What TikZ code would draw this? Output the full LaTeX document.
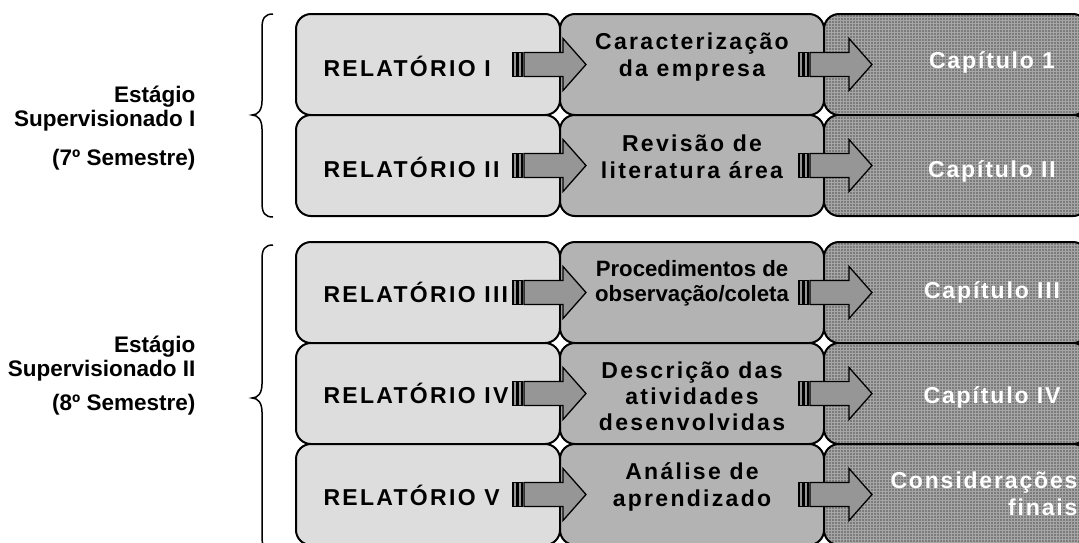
\documentclass[tikz,border=0pt]{standalone}
\usepackage{fontspec}
\setmainfont{Liberation Sans}
\newfontfamily\widefont[LetterSpace=10]{Liberation Sans}
\newfontfamily\capfont[LetterSpace=8]{Liberation Sans}
\usetikzlibrary{patterns}

\definecolor{relfill}{HTML}{DDDDDD}
\definecolor{temfill}{HTML}{B3B3B3}
\definecolor{capfill}{HTML}{7B7B7B}
\definecolor{capgrid}{HTML}{A6A6A6}
\definecolor{arrfill}{HTML}{969696}

\tikzset{
  box/.style={draw=black, line width=2pt, rounded corners=15pt,
    minimum width=264pt, minimum height=101pt, inner sep=0pt},
  relbox/.style={box, fill=relfill},
  tembox/.style={box, fill=temfill},
  capbox/.style={box, preaction={fill=capfill}, pattern=grid, pattern color=capgrid},
  reltext/.style={anchor=base west, font=\widefont\bfseries\fontsize{23}{27}\selectfont},
  temtext/.style={align=center, font=\widefont\bfseries\fontsize{23}{27}\selectfont},
  captext/.style={text=white, font=\capfont\bfseries\fontsize{23}{27}\selectfont},
  stagetext/.style={anchor=east, align=right, font=\bfseries\fontsize{22.5}{24}\selectfont},
  arrowpart/.style={draw=black, line width=1.3pt, fill=arrfill},
  brace/.style={draw=black, line width=1.5pt},
  striparrow/.pic={
    \draw[arrowpart] (0,-12) rectangle (3.5,12);
    \draw[arrowpart] (5,-12) rectangle (9,12);
    \draw[arrowpart] (11,-12) -- (50,-12) -- (50,-26) -- (73,0) -- (50,26)
      -- (50,12) -- (11,12) -- cycle;
  }
}

\begin{document}
\begin{tikzpicture}[x=1pt, y=-1pt]
\useasboundingbox (0,0) rectangle (1079,542);

% caixas
\node[relbox] (r1) at (428,64.5) {};
\node[relbox] (r2) at (428,165.5) {};
\node[relbox] (r3) at (428,292.5) {};
\node[relbox] (r4) at (428,393.5) {};
\node[relbox] (r5) at (428,494.5) {};
\node[tembox] (t1) at (692,64.5) {};
\node[tembox] (t2) at (692,165.5) {};
\node[tembox] (t3) at (692,292.5) {};
\node[tembox] (t4) at (692,393.5) {};
\node[tembox] (t5) at (692,494.5) {};
\node[capbox] (c1) at (956,64.5) {};
\node[capbox] (c2) at (956,165.5) {};
\node[capbox] (c3) at (956,292.5) {};
\node[capbox] (c4) at (956,393.5) {};
\node[capbox] (c5) at (956,494.5) {};

% setas
\foreach \i in {1,...,5}{
  \path (r\i.east) ++(-48,0) pic {striparrow};
  \path (t\i.east) ++(-26,0) pic {striparrow};
}

% textos
\node[reltext] (rl1) at (320,76) {RELATÓRIO I};
\node[reltext] (rl2) at (320,177) {RELATÓRIO II};
\node[reltext] (rl3) at (320,302) {RELATÓRIO III};
\node[reltext] (rl4) at (320,403) {RELATÓRIO IV};
\node[reltext] (rl5) at (320,505) {RELATÓRIO V};

\node[temtext] (tl1) at (692,57) {Caracterização\\da empresa};
\node[temtext] (tl2) at (692,156.5) {Revisão de\\literatura área};
\node[temtext, font=\bfseries\fontsize{22.2}{25}\selectfont] (tl3) at (692,283) {Procedimentos de\\observação/coleta};
\node[temtext, font=\widefont\bfseries\fontsize{23}{26}\selectfont] (tl4) at (692,396) {Descrição das\\atividades\\desenvolvidas};
\node[temtext] (tl5) at (692,487) {Análise de\\aprendizado};

\node[captext, anchor=base] (cl1) at (992,68) {Capítulo 1};
\node[captext, anchor=base] (cl2) at (992,177) {Capítulo II};
\node[captext, anchor=base] (cl3) at (992,298) {Capítulo III};
\node[captext, anchor=base] (cl4) at (992,403) {Capítulo IV};
\node[captext, anchor=east, align=right] (cl5) at (1081,494) {Considerações\\finais};

\node[stagetext] (s1) at (199,128) {Estágio\\Supervisionado I\\[15pt](7º Semestre)};
\node[stagetext] (s2) at (199,376) {Estágio\\Supervisionado II\\[10pt](8º Semestre)};

% chaves
\draw[brace] (273,14) .. controls (265,14) and (262,18) .. (262,28) -- (262,101)
  .. controls (262,110) and (258,115) .. (252,115)
  .. controls (258,115) and (262,120) .. (262,129) -- (262,203)
  .. controls (262,213) and (265,217) .. (273,217);
\draw[brace] (273,245) .. controls (265,245) and (262,249) .. (262,259) -- (262,384)
  .. controls (262,393) and (258,398) .. (252,398)
  .. controls (258,398) and (262,403) .. (262,412) -- (262,537)
  .. controls (262,547) and (265,551) .. (273,551);
\end{tikzpicture}
\end{document}
